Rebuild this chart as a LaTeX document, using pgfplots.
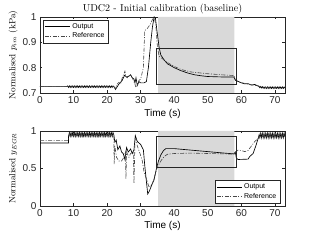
\documentclass[border=0pt]{standalone}
\usepackage{pgfplots}
\pgfplotsset{compat=1.18}
\usepackage{fontspec}
\newfontfamily\arial{Liberation Sans}
\definecolor{shade}{RGB}{217,217,217}
\definecolor{refc}{RGB}{70,70,70}
\definecolor{axc}{RGB}{38,38,38}
\begin{document}
\begin{tikzpicture}
\useasboundingbox (0pt,0pt) rectangle (314pt,241pt);
\pgfplotsset{
  every axis/.append style={
    scale only axis, width=245pt, anchor=south west,
    xmin=0, xmax=73, xtick={0,10,...,70},
    axis line style={axc}, tick style={axc, line width=0.4pt},
    major tick length=2.5pt, tick align=inside,
    /pgf/number format/assume math mode=true,
    tick label style={font=\arial\fontsize{10}{12}\selectfont, text=axc},
    ylabel style={at={(axis description cs:-0.11,0.5)}, anchor=center, font=\fontsize{9}{11}\selectfont},
    legend style={font=\arial\fontsize{7}{8}\selectfont, draw=axc, fill=white, inner sep=1.5pt, row sep=-1pt, legend cell align=left},
    legend image code/.code={\draw[#1] (0pt,0pt) -- (25pt,0pt);},
  },
  outp/.style={black, line width=0.65pt},
  refp/.style={refc, line width=0.6pt, dash pattern=on 4pt off 1.5pt on 1pt off 1.5pt},
}
% ---------------- top panel ----------------
\begin{axis}[at={(40pt,148pt)}, height=76pt, ymin=0.7, ymax=1, ytick={0.7,0.8,0.9,1},
  yticklabels={0.7,0.8,0.9,1},
  xlabel={\arial\fontsize{10}{12}\selectfont Time (s)},
  xlabel style={at={(axis description cs:0.5,-0.27)}, anchor=center},
  ylabel={Normalised $p_{im}$ (kPa)},
  title={UDC2 - Initial calibration (baseline)},
  every axis title shift=0pt,
  title style={at={(axis description cs:0.5,1)}, anchor=center, yshift=8pt, font=\fontsize{10}{12}\selectfont},
  legend style={at={(axis description cs:0.012,0.965)}, anchor=north west}]
\addplot[fill=shade, draw=none, forget plot] coordinates {(35.2,0.7) (57.9,0.7) (57.9,1) (35.2,1)} \closedcycle;
\addplot[outp] coordinates {
(0,0.725)(8,0.725)
(8.25,.728)(8.5,.722)(8.75,.728)(9,.722)(9.25,.728)(9.5,.722)(9.75,.728)(10,.722)(10.25,.728)(10.5,.722)(10.75,.728)(11,.722)(11.25,.728)(11.5,.722)(11.75,.728)(12,.722)(12.25,.728)(12.5,.722)(12.75,.728)(13,.722)(13.25,.728)(13.5,.722)(13.75,.728)(14,.722)(14.25,.728)(14.5,.722)(14.75,.728)(15,.722)(15.25,.728)(15.5,.722)(15.75,.728)(16,.722)(16.25,.728)(16.5,.722)(16.75,.728)(17,.722)(17.25,.728)(17.5,.722)(17.75,.728)(18,.722)(18.25,.728)(18.5,.722)(18.75,.728)(19,.722)(19.25,.728)(19.5,.722)(19.75,.728)(20,.722)(20.25,.728)(20.5,.722)(20.75,.728)(21,.722)(21.25,.728)(21.5,.722)(21.75,.728)(22,.725)
(22.5,0.714)(23.5,0.735)(24.5,0.75)(25.2,0.77)(25.8,0.763)(26.5,0.766)(27,0.772)(27.5,0.76)(28,0.755)(28.3,0.74)(28.6,0.76)(29,0.73)(29.5,0.745)(30,0.74)(31,0.74)(31.7,0.745)(32.3,0.8)(33,0.9)(33.5,0.96)(34,1.0)(34.4,0.995)(35,0.93)(35.5,0.88)(36,0.85)(37,0.83)(38,0.815)(40,0.80)(42,0.788)(44,0.779)(46,0.772)(48,0.768)(50,0.765)(55,0.763)(57.8,0.763)(58.2,0.75)(59,0.746)(60,0.74)(61,0.736)(62,0.737)(63,0.731)(64,0.734)(65,0.727)
(65.25,.726)(65.5,.721)(65.75,.726)(66,.72)(66.25,.725)(66.5,.719)(66.75,.724)(67,.718)(67.25,.724)(67.5,.718)(67.75,.724)(68,.718)(68.25,.724)(68.5,.718)(68.75,.724)(69,.718)(69.25,.724)(69.5,.718)(69.75,.724)(70,.718)(70.25,.724)(70.5,.718)(70.75,.724)(71,.718)(71.25,.724)(71.5,.718)(71.75,.724)(72,.718)(72.25,.724)(72.5,.718)(72.75,.724)(73,.72)
};
\addlegendentry{Output}
\addplot[refp] coordinates {
(0,0.725)(22,0.725)(22.5,0.72)(23,0.735)(23.5,0.742)(24,0.736)(24.5,0.76)(25.3,0.786)(25.6,0.765)(26,0.76)(26.5,0.77)(27,0.77)(27.5,0.76)(28.3,0.735)(28.5,0.725)(29,0.73)(29.5,0.75)(30,0.755)(30.8,0.8)(31.2,0.946)(32,0.955)(32.8,0.97)(33.5,0.99)(34,1.0)(34.5,0.97)(35,0.88)(35.5,0.845)(36.5,0.835)(38,0.82)(40,0.805)(42,0.793)(45,0.783)(50,0.776)(55,0.771)(57.8,0.769)(58.3,0.752)(59,0.745)(60,0.741)(62,0.735)(64,0.73)(65,0.729)(66,0.722)(73,0.72)
};
\addlegendentry{Reference}
\addplot[axc, line width=0.5pt, forget plot] coordinates {(34.6,0.734) (58.6,0.734) (58.6,0.875) (34.6,0.875) (34.6,0.734)};
\end{axis}
% ---------------- bottom panel ----------------
\begin{axis}[at={(40pt,35pt)}, height=75pt, ymin=0, ymax=1, ytick={0,0.5,1},
  yticklabels={0,0.5,1},
  xlabel={\arial\fontsize{10}{12}\selectfont Time (s)},
  xlabel style={at={(axis description cs:0.5,-0.27)}, anchor=center},
  ylabel={Normalised $y_{EGR}$},
  legend style={at={(axis description cs:0.98,0.035)}, anchor=south east}]
\addplot[fill=shade, draw=none, forget plot] coordinates {(35.2,0) (57.9,0) (57.9,1) (35.2,1)} \closedcycle;
\addplot[outp] coordinates {
(0,0.84)(8.5,0.84)
(8.5,.93)(8.75,.98)(9,.93)(9.25,.98)(9.5,.93)(9.75,.98)(10,.93)(10.25,.98)(10.5,.93)(10.75,.98)(11,.93)(11.25,.98)(11.5,.93)(11.75,.98)(12,.93)(12.25,.98)(12.5,.93)(12.75,.98)(13,.93)(13.25,.98)(13.5,.93)(13.75,.98)(14,.93)(14.25,.98)(14.5,.93)(14.75,.98)(15,.93)(15.25,.98)(15.5,.93)(15.75,.98)(16,.93)(16.25,.98)(16.5,.93)(16.75,.98)(17,.93)(17.25,.98)(17.5,.93)(17.75,.98)(18,.93)(18.25,.98)(18.5,.93)(18.75,.98)(19,.93)(19.25,.98)(19.5,.93)(19.75,.98)(20,.93)(20.25,.98)(20.5,.93)(20.75,.98)(21,.93)(21.25,.98)(21.5,.93)(21.75,.98)(22,.95)
(22.3,0.85)(22.7,0.88)(23.2,0.75)(23.8,0.8)(24.3,0.72)(24.8,0.7)(25.3,0.62)(25.8,0.78)(26.3,0.72)(27,0.76)(27.5,0.7)(28,0.75)(28.4,0.94)(29,0.86)(30,0.82)(30.8,0.75)(31.3,0.5)(32.1,0.16)(32.6,0.2)(33.3,0.28)(34,0.35)(34.7,0.5)(35.3,0.6)(36,0.68)(36.8,0.74)(37.5,0.765)(40,0.765)(45,0.745)(50,0.725)(55,0.705)(57.8,0.695)(58.2,0.72)(58.5,0.64)(59,0.62)(62,0.625)(62.5,0.66)(63.5,0.7)(64.3,0.8)(65,0.9)
(65.3,.95)(65.5,.91)(65.75,.97)(66,.91)(66.25,.97)(66.5,.91)(66.75,.97)(67,.91)(67.25,.97)(67.5,.91)(67.75,.97)(68,.91)(68.25,.97)(68.5,.91)(68.75,.97)(69,.91)(69.25,.97)(69.5,.91)(69.75,.97)(70,.91)(70.25,.97)(70.5,.91)(70.75,.97)(71,.91)(71.25,.97)(71.5,.91)(71.75,.97)(72,.91)(72.25,.97)(72.5,.91)(72.75,.97)(73,.92)
};
\addlegendentry{Output}
\addplot[refp] coordinates {
(0,0.875)(8.5,0.875)
(8.6,.925)(8.85,.965)(9.1,.925)(9.35,.965)(9.6,.925)(9.85,.965)(10.1,.925)(10.35,.965)(10.6,.925)(10.85,.965)(11.1,.925)(11.35,.965)(11.6,.925)(11.85,.965)(12.1,.925)(12.35,.965)(12.6,.925)(12.85,.965)(13.1,.925)(13.35,.965)(13.6,.925)(13.85,.965)(14.1,.925)(14.35,.965)(14.6,.925)(14.85,.965)(15.1,.925)(15.35,.965)(15.6,.925)(15.85,.965)(16.1,.925)(16.35,.965)(16.6,.925)(16.85,.965)(17.1,.925)(17.35,.965)(17.6,.925)(17.85,.965)(18.1,.925)(18.35,.965)(18.6,.925)(18.85,.965)(19.1,.925)(19.35,.965)(19.6,.925)(19.85,.965)(20.1,.925)(20.35,.965)(20.6,.925)(20.85,.965)(21.1,.925)(21.35,.965)(21.6,.925)(21.85,.965)(22,.93)
(22.1,0.56)(22.3,0.8)(22.8,0.65)(23.5,0.6)(24.3,0.6)(25,0.65)(25.5,0.72)(25.6,0.36)(25.8,0.72)(26.5,0.65)(27,0.7)(27.8,0.72)(28,0.3)(28.3,0.85)(28.6,0.9)(29,0.8)(29.8,0.7)(30.5,0.6)(31,0.45)(31.8,0.35)(32.5,0.25)(33.5,0.3)(34.5,0.45)(35,0.52)(36,0.6)(37,0.66)(38,0.69)(40,0.7)(45,0.705)(50,0.7)(55,0.695)(57.8,0.69)(58.3,0.72)(59,0.745)(60,0.74)(61,0.725)(62,0.74)(63,0.8)(64,0.86)(65,0.9)
(65.4,.92)(65.65,.96)(65.9,.92)(66.15,.96)(66.4,.92)(66.65,.96)(66.9,.92)(67.15,.96)(67.4,.92)(67.65,.96)(67.9,.92)(68.15,.96)(68.4,.92)(68.65,.96)(68.9,.92)(69.15,.96)(69.4,.92)(69.65,.96)(69.9,.92)(70.15,.96)(70.4,.92)(70.65,.96)(70.9,.92)(71.15,.96)(71.4,.92)(71.65,.96)(71.9,.92)(72.15,.96)(72.4,.92)(72.65,.96)(72.9,.92)(73,.93)
};
\addlegendentry{Reference}
\addplot[axc, line width=0.5pt, forget plot] coordinates {(34.6,0.51) (58.6,0.51) (58.6,0.932) (34.6,0.932) (34.6,0.51)};
\end{axis}
\end{tikzpicture}
\end{document}
